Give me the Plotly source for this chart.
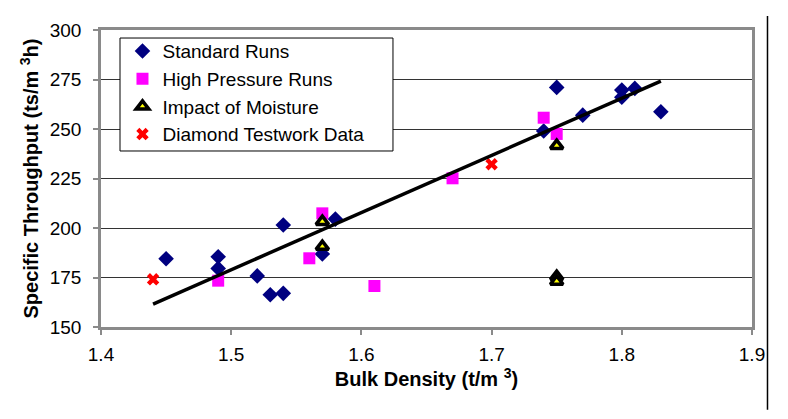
import plotly.graph_objects as go

# Standard Runs
std_x = [1.45, 1.49, 1.49, 1.52, 1.53, 1.54, 1.54, 1.57, 1.58, 1.75, 1.74, 1.77, 1.80, 1.80, 1.81, 1.83]
std_y = [184.5, 185.5, 179.6, 175.8, 166.3, 167.0, 201.5, 186.9, 204.5, 271.0, 249.0, 257.0, 269.7, 266.0, 270.5, 258.7]

# High Pressure Runs
hp_x = [1.49, 1.57, 1.56, 1.61, 1.67, 1.74, 1.75]
hp_y = [173.4, 207.4, 184.7, 170.7, 225.1, 255.7, 247.5]

# Impact of Moisture
mo_x = [1.57, 1.57, 1.75, 1.75, 1.75]
mo_y = [203.2, 190.6, 241.6, 175.5, 173.0]

# Diamond Testwork Data
dt_x = [1.44, 1.70]
dt_y = [174.1, 232.2]

# Trend line end points
trend_x = [1.44, 1.83]
trend_y = [161.6, 274.2]

x_ticks = [1.4, 1.5, 1.6, 1.7, 1.8, 1.9]
y_ticks = [150, 175, 200, 225, 250, 275, 300]

FONT = "Liberation Sans, Arial, sans-serif"

fig = go.Figure()
fig.add_trace(go.Scatter(x=std_x, y=std_y, mode="markers", name="Standard Runs",
                         marker=dict(symbol="diamond", size=12, color="#000080",
                                     line=dict(width=0))))
fig.add_trace(go.Scatter(x=hp_x, y=hp_y, mode="markers", name="High Pressure Runs",
                         marker=dict(symbol="square", size=12, color="#FF00FF",
                                     line=dict(width=0))))
fig.add_trace(go.Scatter(x=mo_x, y=mo_y, mode="markers", name="Impact of Moisture",
                         marker=dict(symbol="triangle-up", size=11, color="#FFFF00",
                                     line=dict(width=3.5, color="#000000"))))
fig.add_trace(go.Scatter(x=dt_x, y=dt_y, mode="markers", name="Diamond Testwork Data",
                         marker=dict(symbol="x", size=11, color="#FF0000",
                                     line=dict(width=0))))
fig.add_trace(go.Scatter(x=trend_x, y=trend_y, mode="lines", showlegend=False,
                         line=dict(color="#000000", width=3.5), hoverinfo="skip"))

# legend frame (drawn as a box so its size matches the reference)
fig.add_shape(type="rect", xref="paper", yref="paper", x0=0.0292, x1=0.4485,
              y0=0.5926, y1=0.973, fillcolor="white", layer="above",
              line=dict(color="#000000", width=1))

# vertical rule at the right of the chart
fig.add_shape(type="line", xref="paper", yref="paper", x0=1.0238, x1=1.0238,
              y0=1.047, y1=-0.279, line=dict(color="#000000", width=1.5))

fig.update_layout(
    width=788, height=419,
    margin=dict(l=101, r=36, t=30, b=92),
    paper_bgcolor="white", plot_bgcolor="white",
    font=dict(family=FONT, size=19, color="#000000"),
    showlegend=True,
    legend=dict(x=0.033, y=0.993, xanchor="left", yanchor="top",
                bgcolor="rgba(0,0,0,0)", borderwidth=0,
                font=dict(family=FONT, size=19, color="#000000"),
                tracegroupgap=0, itemsizing="trace"),
    xaxis=dict(range=[1.4, 1.9], tickvals=x_ticks, ticktext=[f"{v:.1f}" for v in x_ticks],
               showgrid=False, zeroline=False,
               showline=True, linecolor="#8a8a8a", linewidth=2.5, mirror=True,
               ticks="outside", ticklen=5, tickcolor="#8a8a8a", tickwidth=1.5,
               ticklabelstandoff=3,
               tickfont=dict(family=FONT, size=19, color="#000000"),
               title=dict(text="<b>Bulk Density (t/m <sup>3</sup>)</b>", standoff=4,
                          font=dict(family=FONT, size=20, color="#000000"))),
    yaxis=dict(range=[150, 300], tickvals=y_ticks, ticktext=[str(v) for v in y_ticks],
               showgrid=True, gridcolor="#333333", gridwidth=1, zeroline=False,
               showline=True, linecolor="#8a8a8a", linewidth=2.5, mirror=True,
               ticks="outside", ticklen=5, tickcolor="#8a8a8a", tickwidth=1.5,
               ticklabelstandoff=8,
               tickfont=dict(family=FONT, size=19, color="#000000"),
               title=dict(text="<b>Specific Throughput (ts/m <sup>3</sup>h)</b>", standoff=6,
                          font=dict(family=FONT, size=20, color="#000000"))),
)

fig.write_html("out.html")
